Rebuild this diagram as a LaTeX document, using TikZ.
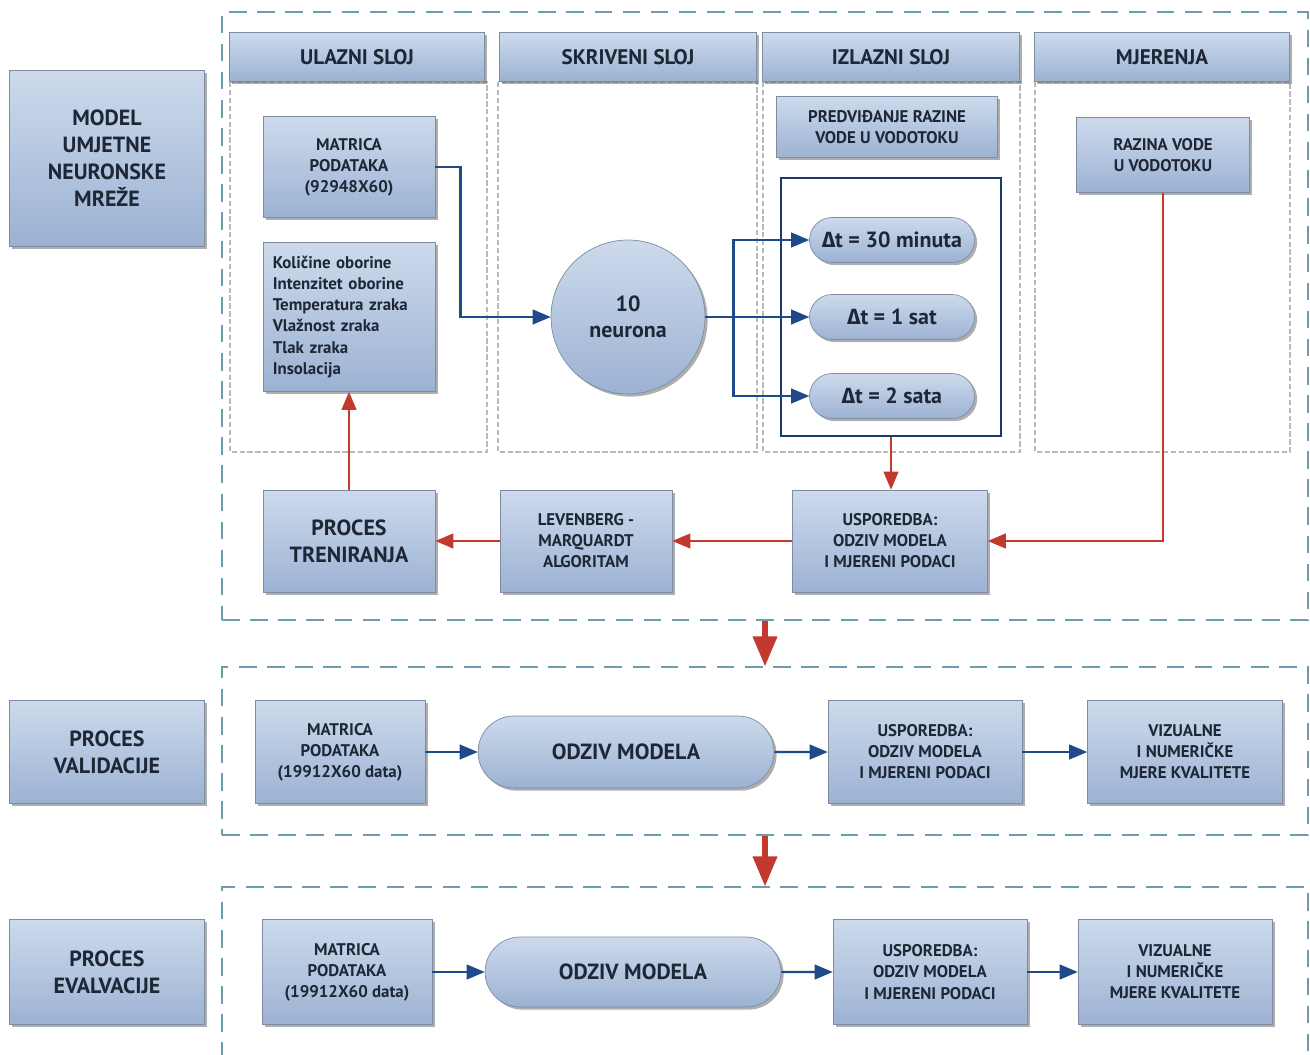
\documentclass[tikz,border=0pt]{standalone}
\usepackage{fontspec}
\setmainfont{PT Sans}
\newfontfamily\grk{Fira Sans}
\usetikzlibrary{shapes,arrows,positioning,shadows}

\definecolor{boxtop}{HTML}{CDDAEC}
\definecolor{boxbot}{HTML}{9CB2D3}
\definecolor{boxline}{HTML}{7D8CA3}
\definecolor{txt}{HTML}{1D2735}
\definecolor{frameblue}{HTML}{6E9DB2}
\definecolor{navy}{HTML}{1F4A8A}
\definecolor{arrred}{HTML}{C23A2E}

\tikzset{
  box/.style={draw=boxline, top color=boxtop, bottom color=boxbot, text=txt,
    align=center, inner sep=2pt,
    drop shadow={shadow xshift=1.5pt, shadow yshift=-1.5pt, opacity=0.45, fill=black!70}},
  hdr/.style={box, minimum height=0.98cm, font=\fontsize{12}{14}\selectfont\bfseries},
  small/.style={font=\fontsize{9.6}{12}\selectfont\bfseries},
  big/.style={font=\fontsize{12.5}{15.3}\selectfont\bfseries},
  pill/.style={box, rounded rectangle, font=\fontsize{12.5}{15}\selectfont\bfseries},
  dframe/.style={draw=frameblue, line width=1.2pt, dash pattern=on 10pt off 6pt},
  colline/.style={draw=gray!55, line width=0.7pt, dash pattern=on 3pt off 1.5pt},
  bluearr/.style={draw=navy, line width=1.4pt, -triangle 45},
  redarr/.style={draw=arrred, line width=1.4pt, -triangle 45},
  bigarr/.style={draw=arrred, line width=3pt, -triangle 45}
}

\begin{document}
\begin{tikzpicture}[x=0.02cm,y=-0.02cm]
\useasboundingbox (0,0) rectangle (1310,1054);

% outer frames
\node[dframe, minimum width=21.72cm, minimum height=12.16cm] (frM) at (765,316) {};
\node[dframe, minimum width=21.72cm, minimum height=3.36cm] (frV) at (765,751) {};
\node[dframe, minimum width=21.72cm, minimum height=3.5cm] (frE) at (765,974.5) {};

% columns
\foreach \a/\b in {230/487,498/757,763/1020,1035/1290}
  \draw[colline] (\a,82) rectangle (\b,452);

% headers
\node[hdr, minimum width=5.1cm] (hUl) at (357,57) {ULAZNI SLOJ};
\node[hdr, minimum width=5.14cm] (hSk) at (628,57) {SKRIVENI SLOJ};
\node[hdr, minimum width=5.14cm] (hIz) at (891,57) {IZLAZNI SLOJ};
\node[hdr, minimum width=5.1cm] (hMj) at (1162,57) {MJERENJA};

% model
\node[box, big, minimum width=3.9cm, minimum height=3.52cm] (model) at (107,158)
  {MODEL\\UMJETNE\\NEURONSKE\\MREŽE};
\node[box, small, minimum width=3.44cm, minimum height=2.02cm] (mat) at (349,167)
  {MATRICA\\PODATAKA\\(92948X60)};
\node[box, small, text width=3.05cm, align=left, minimum width=3.44cm, minimum height=2.98cm] (vars) at (349,317)
  {Količine oborine\\Intenzitet oborine\\Temperatura zraka\\Vlažnost zraka\\Tlak zraka\\Insolacija};
\node[box, circle, minimum size=3.08cm, font=\fontsize{12.5}{15}\selectfont\bfseries] (neur) at (628,317) {10\\neurona};
\node[box, small, minimum width=4.42cm, minimum height=1.22cm] (pred) at (887,127)
  {PREDVIĐANJE RAZINE\\VODE U VODOTOKU};
\node[draw=navy!80!black, line width=1.2pt, minimum width=4.4cm, minimum height=5.16cm] (izl) at (891,307) {};
\node[pill, minimum width=3.44cm, minimum height=0.9cm] (p30) at (892,240) {{\grk\bfseries Δ}t = 30 minuta};
\node[pill, minimum width=3.44cm, minimum height=0.9cm] (p1) at (892,317) {{\grk\bfseries Δ}t = 1 sat};
\node[pill, minimum width=3.44cm, minimum height=0.9cm] (p2) at (892,396) {{\grk\bfseries Δ}t = 2 sata};
\node[box, small, minimum width=3.46cm, minimum height=1.5cm] (raz) at (1163,155)
  {RAZINA VODE\\U VODOTOKU};
\node[box, big, minimum width=3.44cm, minimum height=2.04cm] (proc) at (349,541)
  {PROCES\\TRENIRANJA};
\node[box, small, minimum width=3.44cm, minimum height=2.04cm] (lev) at (586,541)
  {LEVENBERG -\\MARQUARDT\\ALGORITAM};
\node[box, small, minimum width=3.9cm, minimum height=2.04cm] (usp) at (890,541)
  {USPOREDBA:\\ODZIV MODELA\\I MJERENI PODACI};

\draw[bluearr] (mat.east) -- ++(25,0) |- (neur.west);
\draw[bluearr] (neur.east) -- ++(28,0) |- (p30.west);
\draw[bluearr] (neur.east) -- (p1.west);
\draw[bluearr] (neur.east) -- ++(28,0) |- (p2.west);
\draw[redarr] (izl.south) -- (izl.south |- usp.north);
\draw[redarr] (raz.south) |- (usp.east);
\draw[redarr] (usp.west) -- (lev.east);
\draw[redarr] (lev.west) -- (proc.east);
\draw[redarr] (proc.north) -- (vars.south);

% validacija
\node[box, big, minimum width=3.9cm, minimum height=2.06cm] (lbV) at (107,752) {PROCES\\VALIDACIJE};
\node[box, small, minimum width=3.4cm, minimum height=2.06cm] (matV) at (340,752)
  {MATRICA\\PODATAKA\\(19912X60 data)};
\node[pill, minimum width=6.06cm, minimum height=1.44cm] (odzV) at (626,752) {ODZIV MODELA};
\node[box, small, minimum width=3.88cm, minimum height=2.06cm] (uspV) at (925,752)
  {USPOREDBA:\\ODZIV MODELA\\I MJERENI PODACI};
\node[box, small, minimum width=3.9cm, minimum height=2.06cm] (vizV) at (1185,752)
  {VIZUALNE\\I NUMERIČKE\\MJERE KVALITETE};
\draw[bluearr] (matV) -- (odzV);
\draw[bluearr] (odzV) -- (uspV);
\draw[bluearr] (uspV) -- (vizV);

% evalvacija
\node[box, big, minimum width=3.9cm, minimum height=2.1cm] (lbE) at (107,972) {PROCES\\EVALVACIJE};
\node[box, small, minimum width=3.4cm, minimum height=2.1cm] (matE) at (347,972)
  {MATRICA\\PODATAKA\\(19912X60 data)};
\node[pill, minimum width=6.06cm, minimum height=1.4cm] (odzE) at (633,972) {ODZIV MODELA};
\node[box, small, minimum width=3.88cm, minimum height=2.1cm] (uspE) at (930,972)
  {USPOREDBA:\\ODZIV MODELA\\I MJERENI PODACI};
\node[box, small, minimum width=3.88cm, minimum height=2.1cm] (vizE) at (1175,972)
  {VIZUALNE\\I NUMERIČKE\\MJERE KVALITETE};
\draw[bluearr] (matE) -- (odzE);
\draw[bluearr] (odzE) -- (uspE);
\draw[bluearr] (uspE) -- (vizE);

\draw[bigarr] (frM.south) -- (frV.north);
\draw[bigarr] (frV.south) -- (frE.north);
\end{tikzpicture}
\end{document}
